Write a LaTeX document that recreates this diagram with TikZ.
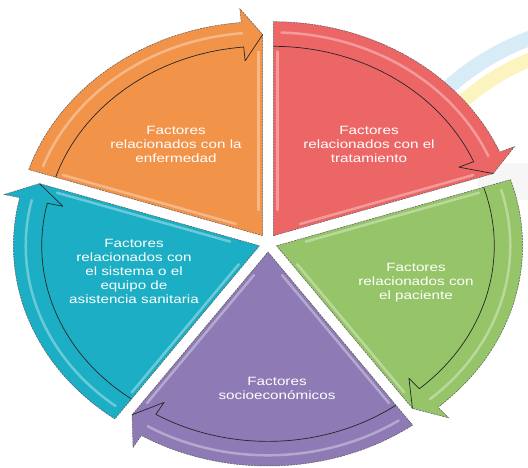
\documentclass[tikz,border=0pt]{standalone}
\usepackage{fontspec}
\setmainfont{Liberation Sans}
\definecolor{corange}{HTML}{F2934A}
\definecolor{cred}{HTML}{ED6666}
\definecolor{cgreen}{HTML}{96C468}
\definecolor{cpurple}{HTML}{8E7AB4}
\definecolor{cteal}{HTML}{1BAEC4}
\definecolor{bgblue}{HTML}{D8ECF8}
\definecolor{bgyellow}{HTML}{FBF4BE}
\tikzset{
  segoutline/.style={draw=black!65, dash pattern=on 2pt off 1pt, line width=0.5pt},
  seginner/.style={draw=black!85, line width=0.7pt, line join=round},
  gloss/.style={draw=white, opacity=0.35, line width=2.5pt, line cap=round},
  lbl/.style={text=white, align=center, font=\fontsize{12}{14}\selectfont, inner sep=0pt, xscale=1.27, transform shape}
}
% #1 start angle, #2 end angle, #3 colour, #4 bisector
\newcommand\mysegment[4]{%
  \pgfmathsetmacro\hb{#2+5}%
  \pgfmathsetmacro\gs{#1-2}%
  \pgfmathsetmacro\pa{#2+90}%
  \pgfmathsetmacro\pb{#1-90}%
  \begin{scope}[shift={(#4:9pt)}]
    \begin{scope}[x=246pt,y=214pt]
      \fill[#3] (0,0) -- (#1:1) arc[start angle=#1, end angle=\hb, radius=1]
        -- (\hb:1.065) -- (#2:0.94) -- cycle;
      \draw[gloss] (\gs:0.95) arc[start angle=\gs, end angle=\hb, radius=0.95];
      \draw[gloss] ([shift={(\pa:4pt)}]#2:0.12) -- ([shift={(\pa:4pt)}]#2:0.86);
      \draw[gloss] ([shift={(\pb:4pt)}]#1:0.12) -- ([shift={(\pb:4pt)}]#1:0.86);
      \draw[segoutline] (0,0) -- (#1:1) arc[start angle=#1, end angle=\hb, radius=1]
        -- (\hb:1.065) -- (#2:0.94) -- cycle;
      \draw[seginner] (#1:0.885) arc[start angle=#1, end angle=\hb, radius=0.885]
        -- (\hb:0.82) -- (#2:0.94);
    \end{scope}
  \end{scope}}
\begin{document}
\begin{tikzpicture}[x=1pt,y=1pt]
\useasboundingbox (0,0) rectangle (528,468);
\fill[white] (0,0) rectangle (528,468);
% faint background
\begin{scope}
  \clip (0,0) rectangle (528,468);
  \fill[gray!7] (478,268) rectangle (528,305);
  \draw[bgblue, line width=15pt] (620,188) ++(95:258) arc[start angle=95, end angle=150, radius=258];
  \draw[bgyellow, line width=14pt] (620,188) ++(95:238) arc[start angle=95, end angle=150, radius=238];
\end{scope}
% segments
\begin{scope}[shift={(268,225)}]
  \mysegment{162}{90}{corange}{126}
  \mysegment{90}{18}{cred}{54}
  \mysegment{18}{-54}{cgreen}{-18}
  \mysegment{-54}{-126}{cpurple}{-90}
  \mysegment{-126}{-198}{cteal}{-162}
\end{scope}
% labels
\begin{scope}[shift={(176,324)}]
  \node[lbl] (tenf) at (0,0) {Factores\\relacionados con la\\enfermedad};
\end{scope}
\begin{scope}[shift={(369,324)}]
  \node[lbl] (ttra) at (0,0) {Factores\\relacionados con el\\tratamiento};
\end{scope}
\begin{scope}[shift={(416,185)}]
  \node[lbl] (tpac) at (0,0) {Factores\\relacionados con\\el paciente};
\end{scope}
\begin{scope}[shift={(277,80)}]
  \node[lbl] (tsoc) at (0,0) {Factores\\socioeconómicos};
\end{scope}
\begin{scope}[shift={(134,197)}]
  \node[lbl] (tsis) at (0,0) {Factores\\relacionados con\\el sistema o el\\equipo de\\asistencia sanitaria};
\end{scope}
\end{tikzpicture}
\end{document}
